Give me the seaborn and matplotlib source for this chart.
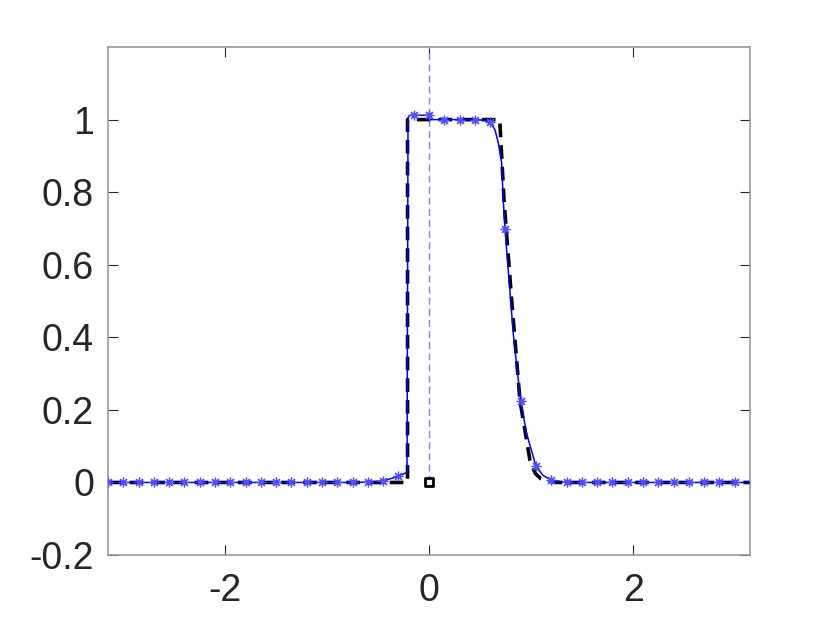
import numpy as np
import matplotlib
matplotlib.use("Agg")
import matplotlib.pyplot as plt
import seaborn as sns

# solid blue curve (fine solution), vertices
blue_x = [-np.pi, -0.75, -0.6, -0.45, -0.3, -0.215, -0.205, -0.19, -0.005, 0.005, 0.45, 0.55,
          0.597, 0.646, 0.678, 0.711, 0.727, 0.744, 0.825, 0.897, 0.956, 1.047, 1.118, 1.194, 1.34, np.pi]
blue_y = [0.0, 0.0, 0.001, 0.004, 0.017, 0.028, 1.005, 1.012, 1.012, 1.0, 1.0, 0.998,
          0.994, 0.972, 0.936, 0.881, 0.779, 0.699, 0.41, 0.224, 0.135, 0.044, 0.019, 0.007, 0.0, 0.0]

# coarse samples (asterisks), 42 grid points from -pi
star_x = np.linspace(-np.pi, np.pi, 43)[:-1]
star_y = [0, 0, 0, 0, 0, 0, 0, 0, 0, 0, 0, 0, 0, 0, 0, 0, 0, 0, 0.004, 0.017,
          1.014, 1.014, 1.0, 1.0, 1.0, 0.994, 0.699, 0.224, 0.044, 0.007,
          0, 0, 0, 0, 0, 0, 0, 0, 0, 0, 0, 0]

# black dashed reference solution
ref_x = [-np.pi, -0.21, -0.21, 0.69, 0.695, 0.734, 0.809, 0.89, 0.988, 1.04, 1.096, 1.23, np.pi]
ref_y = [0.0, 0.0, 1.0, 1.0, 0.986, 0.779, 0.503, 0.227, 0.061, 0.025, 0.01, 0.0, 0.0]

mark_x = [0.0]
mark_y = [0.0]

xticks = [-2, 0, 2]
xtick_labels = ['-2', '0', '2']
yticks = [-0.2, 0, 0.2, 0.4, 0.6, 0.8, 1.0]
ytick_labels = ['-0.2', '0', '0.2', '0.4', '0.6', '0.8', '1']

sns.set_style('ticks')
plt.rcParams['font.family'] = ['Liberation Sans', 'DejaVu Sans']

fig = plt.figure(figsize=(8.3, 6.23), dpi=100)
ax = fig.add_axes([0.1301, 0.1091, 0.7735, 0.8154])

ax.vlines(0, 0, 1.2, colors='#7f7fff', linestyles=(0, (5, 3)), linewidth=1.0, zorder=1)
sns.lineplot(x=ref_x, y=ref_y, sort=False, estimator=None, color='black', linewidth=2.6,
             ax=ax, zorder=2)
ax.lines[-1].set_dashes((3.8, 2.2))
sns.lineplot(x=blue_x, y=blue_y, sort=False, estimator=None, color='blue', linewidth=1.1, ax=ax, zorder=3)
sns.lineplot(x=star_x, y=star_y, sort=False, estimator=None, color='#4f4fff', linestyle='none',
             marker=(8, 2, 0), markersize=7, markeredgewidth=0.9, markeredgecolor='#4f4fff',
             ax=ax, zorder=4)
sns.scatterplot(x=mark_x, y=mark_y, marker='s', s=30, facecolor='white', edgecolor='black',
                linewidth=2, ax=ax, zorder=5)

ax.set_xlim(-np.pi, np.pi)
ax.set_ylim(-0.2, 1.2)
ax.set_xticks(xticks)
ax.set_xticklabels(xtick_labels)
ax.set_yticks(yticks)
ax.set_yticklabels(ytick_labels)
ax.tick_params(direction='in', length=7, width=0.8, color='#262626', labelsize=27,
               labelcolor='#262626', top=True, right=True, pad=10)
ax.tick_params(axis='x', pad=13)
for sp in ax.spines.values():
    sp.set_visible(True)
    sp.set_color('#999999')
    sp.set_linewidth(1.2)

fig.savefig('out.png', dpi=100)
